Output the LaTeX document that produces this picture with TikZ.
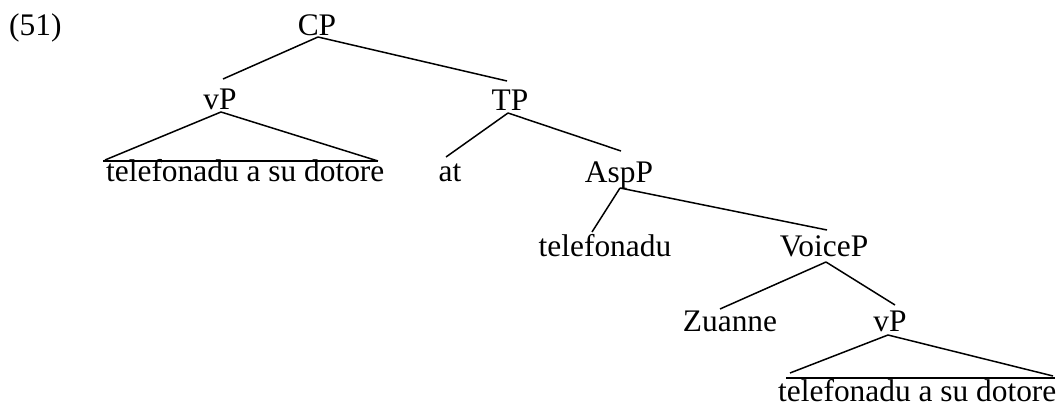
\documentclass[tikz,border=0pt]{standalone}
\usepackage{fontspec}
\setmainfont{Liberation Serif}
\usetikzlibrary{calc}
\begin{document}
\begin{tikzpicture}[x=1pt,y=-1pt,
  lbl/.style={font=\fontsize{31.4}{37}\selectfont, inner sep=0pt, anchor=base},
  lblw/.style={font=\fontsize{31.4}{37}\selectfont, inner sep=0pt, anchor=base west},
  edge/.style={line width=1.5pt}]
\useasboundingbox (0,0) rectangle (1061,406);
% nodes
\node[lblw] (ex) at (9,36) {(51)};
\node[lbl] (CP) at (317,36) {CP};
\node[lbl] (vPa) at (220,110) {vP};
\node[lbl] (TP) at (510,111) {TP};
\node[lblw] (tri1) at (106,182) {telefonadu a su dotore};
\node[lbl] (at) at (450,182) {at};
\node[lbl] (AspP) at (619,183) {AspP};
\node[lbl] (tel) at (605,257) {telefonadu};
\node[lbl] (VoiceP) at (824,257) {VoiceP};
\node[lbl] (Zuanne) at (730,331) {Zuanne};
\node[lbl] (vPb) at (890,331) {vP};
\node[lblw] (tri2) at (778,401) {telefonadu a su dotore};
% edges
\draw[edge] ($(CP.base)+(1,1)$) -- ($(vPa.base)+(3,-31)$);
\draw[edge] ($(CP.base)+(1,1)$) -- ($(TP.base)+(-3,-30)$);
% triangle 1
\draw[edge] ($(vPa.base)+(1,2)$) -- ($(vPa.base)+(-115,50)$);
\draw[edge] ($(vPa.base)+(1,2)$) -- ($(vPa.base)+(158,51)$);
\draw[edge] ($(tri1.base west)+(-3,-21)$) -- ($(tri1.base west)+(272,-21)$);
% TP
\draw[edge] ($(TP.base)+(-2,2)$) -- ($(at.base)+(-4,-25)$);
\draw[edge] ($(TP.base)+(-2,2)$) -- ($(AspP.base)+(2,-32)$);
% AspP
\draw[edge] ($(AspP.base)+(1,5)$) -- ($(tel.base)+(-13,-25)$);
\draw[edge] ($(AspP.base)+(1,5)$) -- ($(VoiceP.base)+(3,-27)$);
% VoiceP
\draw[edge] ($(VoiceP.base)+(2,5)$) -- ($(Zuanne.base)+(-10,-22)$);
\draw[edge] ($(VoiceP.base)+(2,5)$) -- ($(vPb.base)+(5,-26)$);
% triangle 2
\draw[edge] ($(vPb.base)+(-2,4)$) -- ($(vPb.base)+(-100,42)$);
\draw[edge] ($(vPb.base)+(-2,4)$) -- ($(vPb.base)+(163,45)$);
\draw[edge] ($(tri2.base west)+(8,-23)$) -- ($(tri2.base west)+(277,-23)$);
\end{tikzpicture}
\end{document}
